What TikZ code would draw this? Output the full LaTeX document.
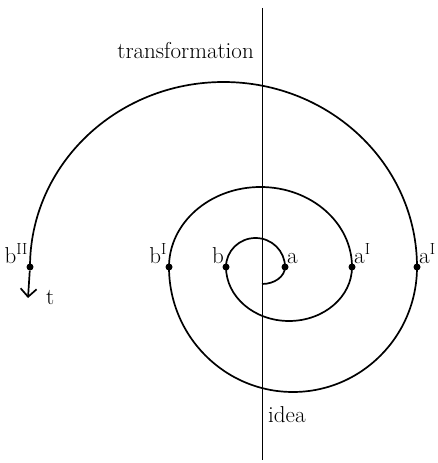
\documentclass[tikz,border=0pt]{standalone}
\usetikzlibrary{arrows.meta}
\begin{document}
\begin{tikzpicture}[
  x=1pt, y=1pt,
  curve/.style={line width=1.7pt, line join=round},
  axis/.style={line width=0.9pt},
  dot/.style={circle, fill=black, inner sep=0pt, minimum size=7pt},
  lbl/.style={font=\fontsize{23}{27}\selectfont, inner sep=2pt}
]
\useasboundingbox (0,0) rectangle (438,463);

% --- axis ---
\coordinate (top) at (262,455);
\coordinate (bot) at (262,3);
\draw[axis] (top) -- (bot);
\node[lbl, anchor=base east, inner sep=0pt] (trans) at (254,404) {transformation};
\node[lbl, anchor=base west, inner sep=0pt] (idea) at (268,40) {idea};

% --- spiral ---
\coordinate (s) at (262,179);
\draw[curve] (s) arc[start angle=270, end angle=360, x radius=23, y radius=17]
  arc[start angle=0, end angle=180, x radius=29.5, y radius=29]
  arc[start angle=180, end angle=360, x radius=63, y radius=54]
  arc[start angle=0, end angle=180, x radius=91.5, y radius=80]
  arc[start angle=180, end angle=360, x radius=124, y radius=125]
  arc[start angle=0, end angle=180, x radius=193.5, y radius=185];

% --- points ---
\foreach \n/\x/\t/\p in {a/285/a/south west, a1/352/{a\textsuperscript{I}}/south west,
  a2/417/{a\textsuperscript{I}}/south west, b/226/b/south east,
  b1/169/{b\textsuperscript{I}}/south east, b2/30/{b\textsuperscript{II}}/south east} {
  \node[dot] (\n) at (\x,196) {};
  \node[lbl, anchor=\p] at ([yshift=1pt]\n.center) {\t};
}

% --- time arrow ---
\coordinate (tend) at (28,165);
\draw[curve, -{Straight Barb[length=8pt, width=16pt]}] (b2) -- (tend);
\node[lbl, anchor=base west, inner sep=0pt] (t) at (46,158) {t};

\end{tikzpicture}
\end{document}
